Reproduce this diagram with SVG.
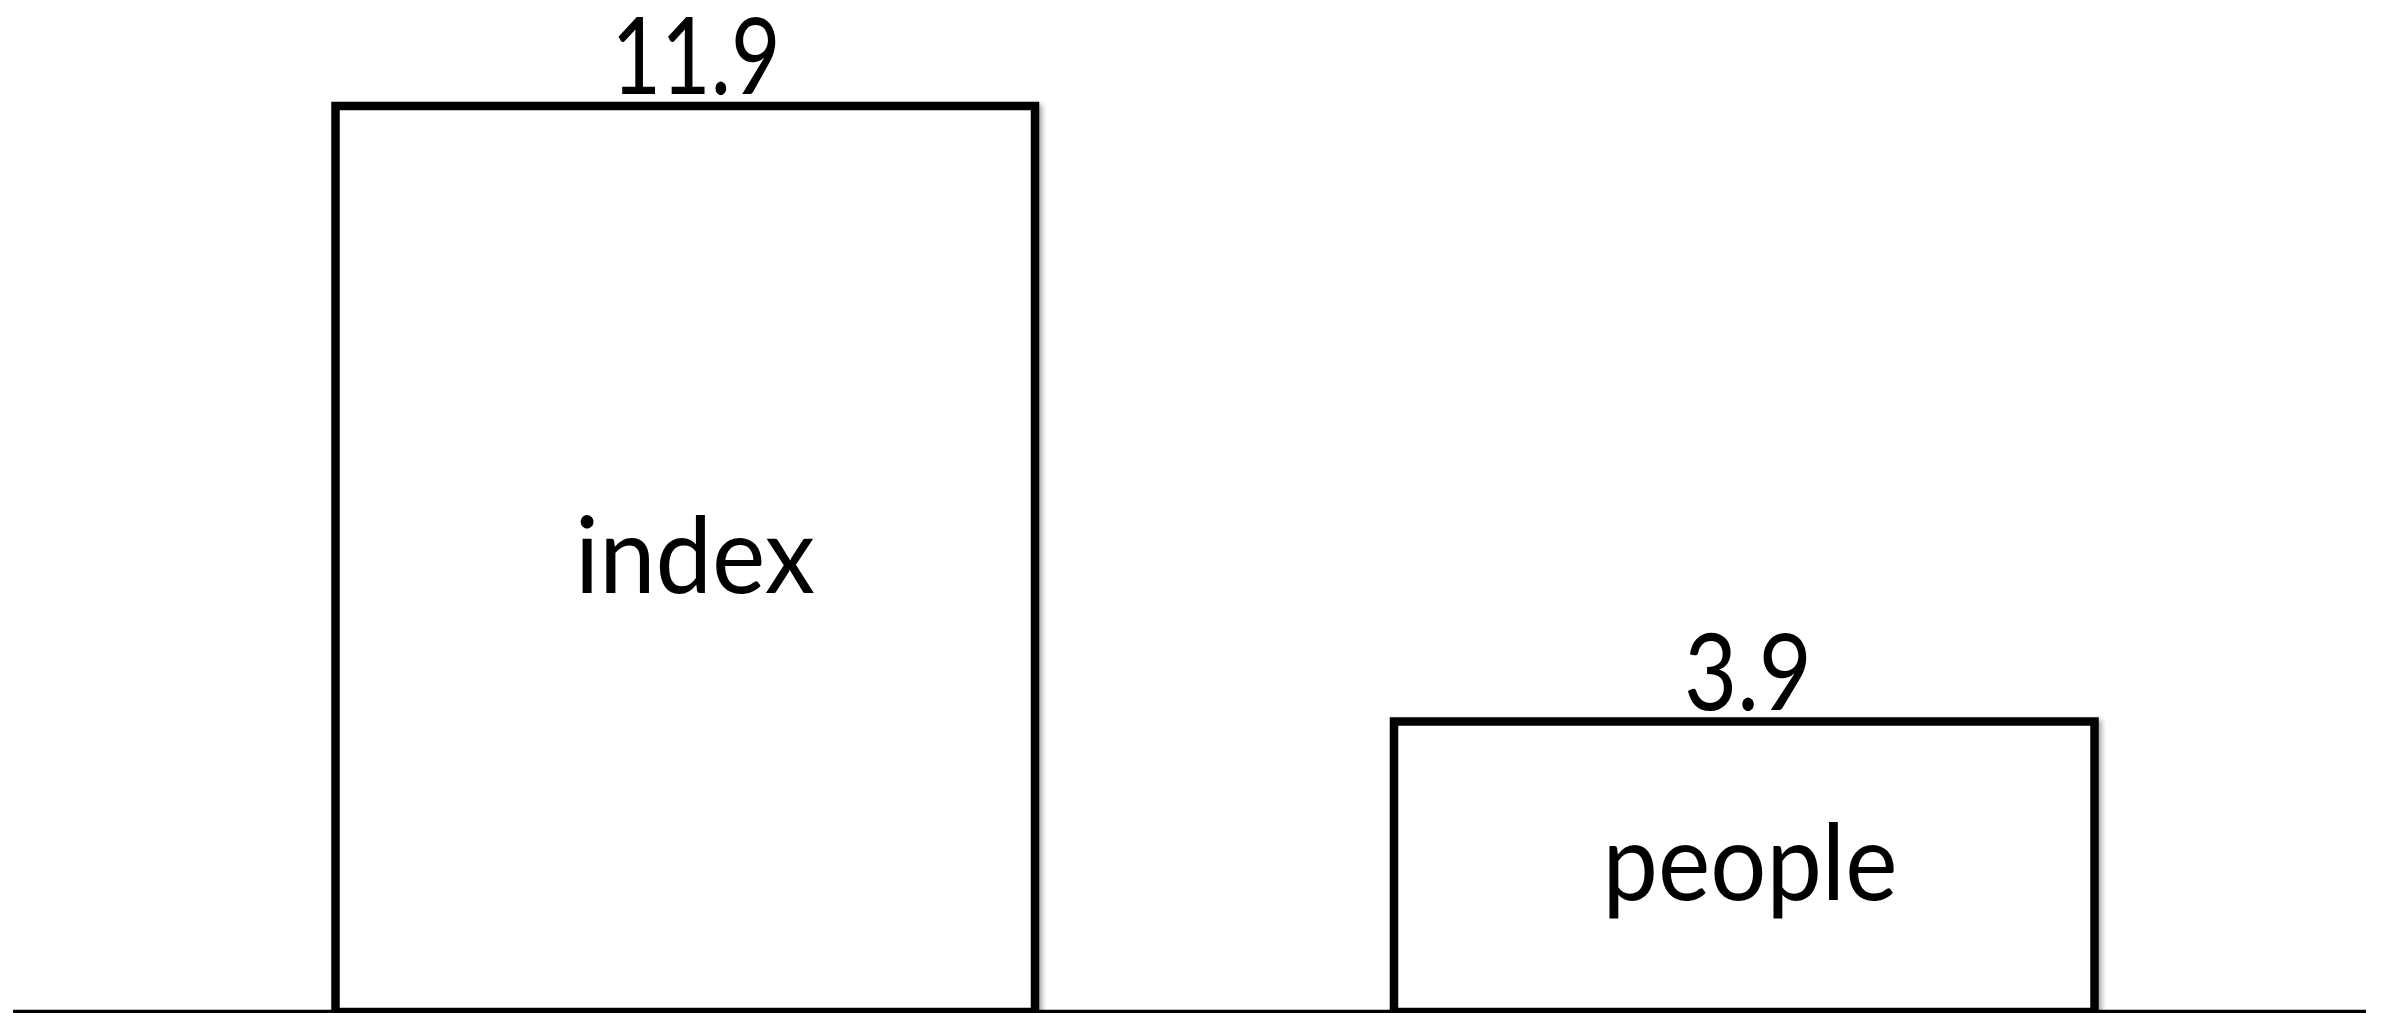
<svg xmlns="http://www.w3.org/2000/svg" width="2382" height="1013" viewBox="0 0 2382 1013">
<defs>
<filter id="sh" x="-5%" y="-5%" width="110%" height="110%">
<feDropShadow dx="3" dy="3" stdDeviation="2.5" flood-color="#000" flood-opacity="0.35"/>
</filter>
<style>
.bar{fill:#fff;stroke:#000;stroke-width:8.5;filter:url(#sh)}
.t{font-family:Lato,"Open Sans","Liberation Sans",sans-serif;font-size:106px;fill:#000;text-anchor:middle}
</style>
</defs>
<rect width="2382" height="1013" fill="#fff"/>
<g id="axis">
<line x1="13" y1="1011.5" x2="2366" y2="1011.5" stroke="#000" stroke-width="3.5"/>
</g>
<g id="node-index">
<rect class="bar" x="335.5" y="106" width="699.5" height="906"/>
<text class="t" x="695" y="593" textLength="240" lengthAdjust="spacingAndGlyphs">index</text>
<text class="t" x="696" y="94" textLength="169" lengthAdjust="spacingAndGlyphs">11.9</text>
</g>
<g id="node-people">
<rect class="bar" x="1394" y="721.5" width="700.5" height="290.5"/>
<text class="t" x="1750" y="900" textLength="295" lengthAdjust="spacingAndGlyphs">people</text>
<text class="t" x="1748" y="710" textLength="128" lengthAdjust="spacingAndGlyphs">3.9</text>
</g>
<g id="connectors"/>
</svg>
